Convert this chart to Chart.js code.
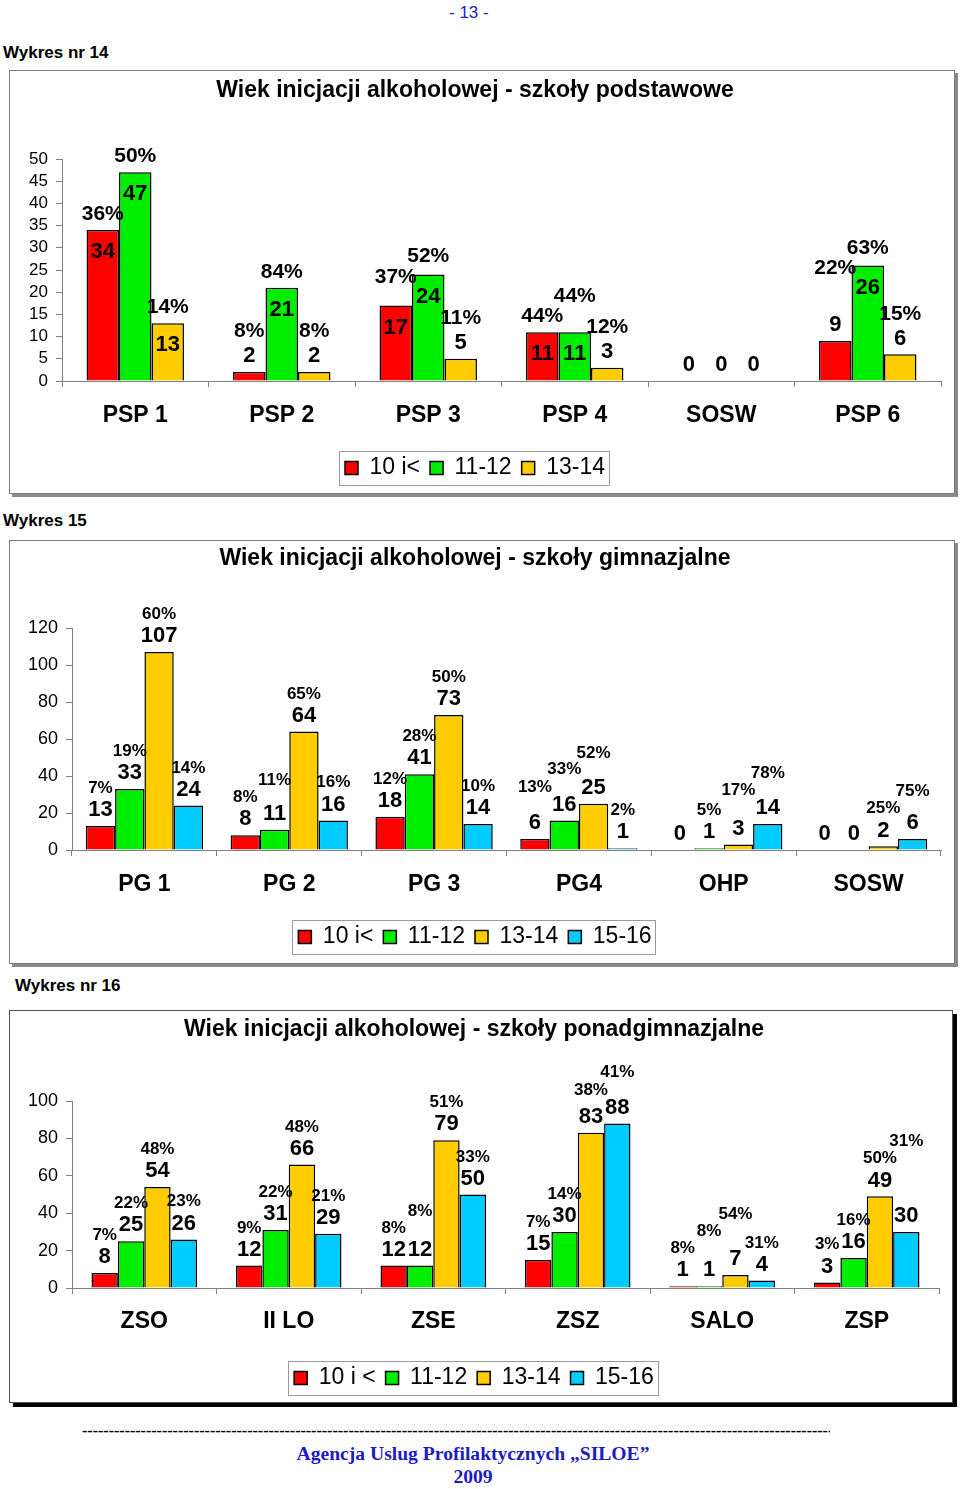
<!DOCTYPE html>
<html lang="pl">
<head>
<meta charset="utf-8">
<title>Wiek inicjacji alkoholowej</title>
<script src="https://cdn.jsdelivr.net/npm/chart.js@4.4.1/dist/chart.umd.min.js"></script>
<style>
  body { margin: 0; width: 960px; height: 1489px; background: #fff; position: relative; overflow: hidden;
         font-family: 'Liberation Sans', Arial, sans-serif; color: #000; }
  .abs { position: absolute; white-space: nowrap; }
  .frame { position: absolute; box-sizing: border-box; border: 1px solid #7a7a7a; background: #fff; }
  .frame.soft { box-shadow: 3px 3px 0 #8a8a8a; }
  .frame.hard { border-color: #555; box-shadow: 4px 4px 0 #000; }
  .holder { position: absolute; }
  .cap { font-weight: bold; font-size: 17px; }
  .blue { color: #1c1cc0; }
</style>
</head>
<body>

<div class="abs blue" style="left:449px; top:3px; font-size:17px;">- 13 -</div>

<div class="abs cap" style="left:3px; top:43px;">Wykres nr 14</div>
<div class="frame soft" style="left:9px; top:70px; width:946px; height:424px;"></div>
<div class="holder" style="left:9px; top:70px;"><canvas id="chart14" width="946" height="424"></canvas></div>

<div class="abs cap" style="left:3px; top:511px;">Wykres 15</div>
<div class="frame soft" style="left:9px; top:540px; width:946px; height:424px;"></div>
<div class="holder" style="left:9px; top:540px;"><canvas id="chart15" width="946" height="424"></canvas></div>

<div class="abs cap" style="left:15px; top:976px;">Wykres nr 16</div>
<div class="frame hard" style="left:9px; top:1010px; width:944px; height:393px;"></div>
<div class="holder" style="left:9px; top:1010px;"><canvas id="chart16" width="944" height="393"></canvas></div>

<div class="abs" style="left:82px; top:1422px; width:748px; overflow:hidden; font:bold 16px 'Liberation Serif', serif;" id="dashes"></div>
<div class="abs blue" style="left:0; width:946px; text-align:center; top:1443px; font:bold 19.6px 'Liberation Serif', serif;">Agencja Uslug Profilaktycznych „SILOE”</div>
<div class="abs blue" style="left:0; width:946px; text-align:center; top:1466px; font:bold 19.6px 'Liberation Serif', serif;">2009</div>

<script>
// Colours of the age groups
const seriesColors = ['#ff0000', '#00ee00', '#ffcc00', '#00ccff'];

// Wykres nr 14 - szkoly podstawowe
const podstCategories = ['PSP 1', 'PSP 2', 'PSP 3', 'PSP 4', 'SOSW', 'PSP 6'];
const podstSeries = ['10 i<', '11-12', '13-14'];
const podst10 = [34, 2, 17, 11, 0, 9];
const podst1112 = [47, 21, 24, 11, 0, 26];
const podst1314 = [13, 2, 5, 3, 0, 6];
const podstPct10 = [36, 8, 37, 44, null, 22];
const podstPct1112 = [50, 84, 52, 44, null, 63];
const podstPct1314 = [14, 8, 11, 12, null, 15];

// Wykres 15 - szkoly gimnazjalne
const gimCategories = ['PG 1', 'PG 2', 'PG 3', 'PG4', 'OHP', 'SOSW'];
const gimSeries = ['10 i<', '11-12', '13-14', '15-16'];
const gim10 = [13, 8, 18, 6, 0, 0];
const gim1112 = [33, 11, 41, 16, 1, 0];
const gim1314 = [107, 64, 73, 25, 3, 2];
const gim1516 = [24, 16, 14, 1, 14, 6];
const gimPct10 = [7, 8, 12, 13, null, null];
const gimPct1112 = [19, 11, 28, 33, 5, null];
const gimPct1314 = [60, 65, 50, 52, 17, 25];
const gimPct1516 = [14, 16, 10, 2, 78, 75];

// Wykres nr 16 - szkoly ponadgimnazjalne
const ponCategories = ['ZSO', 'II LO', 'ZSE', 'ZSZ', 'SALO', 'ZSP'];
const ponSeries = ['10 i <', '11-12', '13-14', '15-16'];
const pon10 = [8, 12, 12, 15, 1, 3];
const pon1112 = [25, 31, 12, 30, 1, 16];
const pon1314 = [54, 66, 79, 83, 7, 49];
const pon1516 = [26, 29, 50, 88, 4, 30];
const ponPct10 = [7, 9, 8, 7, 8, 3];
const ponPct1112 = [22, 22, 8, 14, 8, 16];
const ponPct1314 = [48, 48, 51, 38, 54, 50];
const ponPct1516 = [23, 21, 33, 41, 31, 31];

document.getElementById('dashes').textContent = '-'.repeat(220);

const FONT = "'Liberation Sans', Arial, sans-serif";

// value + percentage labels over the bars, percentages pushed up when they collide
const barLabels = {
    id: 'barLabels',
    afterDatasetsDraw(chart, args, opts) {
        const ctx = chart.ctx;
        const placed = [];
        const pending = [];
        const mkBox = (x, y, w, h, m) => ({ l: x - w / 2 - m, r: x + w / 2 + m, t: y - h / 2 - m, b: y + h / 2 + m });
        const hits = b => placed.some(p => b.l < p.r && b.r > p.l && b.t < p.b && b.b > p.t);
        ctx.save();
        ctx.textAlign = 'center';
        ctx.textBaseline = 'middle';
        ctx.fillStyle = '#000';
        chart.data.datasets.forEach((ds, i) => {
            chart.getDatasetMeta(i).data.forEach((bar, j) => {
                const text = String(ds.data[j]);
                const height = bar.base - bar.y;
                const inside = opts.insideMin && height >= opts.insideMin;
                ctx.font = `bold ${opts.valueSize}px ${FONT}`;
                const vy = inside ? bar.y + opts.valueSize : bar.y - opts.valueSize * 0.72;
                ctx.fillText(text, bar.x, vy);
                placed.push(mkBox(bar.x, vy, ctx.measureText(text).width, opts.valueSize * 0.8, 0));
                if (ds.pct[j] != null) {
                    const py = inside ? bar.y - opts.pctSize * 0.75
                                      : vy - opts.valueSize * 0.45 - opts.pctSize * 0.7;
                    pending.push({ x: bar.x, y: py, text: ds.pct[j] + '%' });
                }
            });
        });
        ctx.font = `bold ${opts.pctSize}px ${FONT}`;
        pending.forEach(p => {
            const w = ctx.measureText(p.text).width;
            let b = mkBox(p.x, p.y, w, opts.pctSize * 0.8, 1.5);
            while (hits(b)) { p.y -= 1; b = mkBox(p.x, p.y, w, opts.pctSize * 0.8, 1.5); }
            placed.push(b);
            ctx.fillText(p.text, p.x, p.y);
        });
        ctx.restore();
    }
};

// framed legend like in the spreadsheet
const legendFrame = {
    id: 'legendFrame',
    afterDraw(chart) {
        const boxes = chart.legend && chart.legend.legendHitBoxes;
        if (!boxes || !boxes.length) return;
        const left = Math.min(...boxes.map(b => b.left)) - 6;
        const right = Math.max(...boxes.map(b => b.left + b.width)) + 4;
        const top = boxes[0].top - 5.5;
        const bottom = boxes[0].top + boxes[0].height + 5.5;
        const ctx = chart.ctx;
        ctx.save();
        ctx.strokeStyle = '#9a9a9a';
        ctx.lineWidth = 1;
        ctx.strokeRect(Math.round(left) + 0.5, Math.round(top) + 0.5, Math.round(right - left), Math.round(bottom - top));
        ctx.restore();
    }
};

function makeChart(id, cfg) {
    const datasets = cfg.series.map((name, i) => ({
        label: name,
        data: cfg.values[i],
        pct: cfg.pcts[i],
        backgroundColor: seriesColors[i],
        borderColor: '#000',
        borderWidth: 1.5,
        categoryPercentage: cfg.groupWidth,
        barPercentage: 1
    }));
    return new Chart(document.getElementById(id), {
        type: 'bar',
        data: { labels: cfg.categories, datasets },
        plugins: [barLabels, legendFrame],
        options: {
            responsive: false,
            animation: false,
            layout: { padding: { left: 0, right: 14, top: 0, bottom: cfg.padBottom } },
            scales: {
                y: {
                    min: 0,
                    max: cfg.max,
                    ticks: { stepSize: cfg.step, autoSkip: false, color: '#000', padding: 8,
                             font: { family: FONT, size: cfg.tickSize } },
                    grid: { drawOnChartArea: false, tickLength: 6, color: '#808080' },
                    border: { color: '#808080' },
                    afterFit: s => { s.width = cfg.yWidth; }
                },
                x: {
                    ticks: { color: '#000', padding: cfg.xPad, font: { family: FONT, size: 23, weight: 'bold' } },
                    grid: { drawOnChartArea: false, tickLength: 6, color: '#808080', offset: true },
                    border: { color: '#808080' },
                    afterFit: s => { s.height = cfg.xHeight; }
                }
            },
            plugins: {
                title: {
                    display: true,
                    text: cfg.title,
                    color: '#000',
                    font: { family: FONT, size: 23, weight: 'bold' },
                    padding: { top: cfg.titleTop, bottom: cfg.titleBottom }
                },
                legend: {
                    position: 'bottom',
                    labels: { color: '#000', boxWidth: 13, boxHeight: 13, padding: 10, font: { family: FONT, size: 23 } }
                },
                tooltip: { enabled: false },
                barLabels: cfg.labels
            }
        }
    });
}

makeChart('chart14', {
    title: 'Wiek inicjacji alkoholowej - szkoły podstawowe',
    categories: podstCategories,
    series: podstSeries,
    values: [podst10, podst1112, podst1314],
    pcts: [podstPct10, podstPct1112, podstPct1314],
    groupWidth: 0.665,
    max: 50, step: 5, tickSize: 17, yWidth: 53,
    titleTop: 7.2, titleBottom: 54.2,
    xPad: 15.2, xHeight: 65.5, padBottom: 4.5,
    labels: { valueSize: 22, pctSize: 21, insideMin: 45 }
});

makeChart('chart15', {
    title: 'Wiek inicjacji alkoholowej - szkoły gimnazjalne',
    categories: gimCategories,
    series: gimSeries,
    values: [gim10, gim1112, gim1314, gim1516],
    pcts: [gimPct10, gimPct1112, gimPct1314, gimPct1516],
    groupWidth: 0.81,
    max: 120, step: 20, tickSize: 18, yWidth: 63,
    titleTop: 5.2, titleBottom: 55.2,
    xPad: 15.2, xHeight: 65.5, padBottom: 5.5,
    labels: { valueSize: 22, pctSize: 17, insideMin: 0 }
});

makeChart('chart16', {
    title: 'Wiek inicjacji alkoholowej - szkoły ponadgimnazjalne',
    categories: ponCategories,
    series: ponSeries,
    values: [pon10, pon1112, pon1314, pon1516],
    pcts: [ponPct10, ponPct1112, ponPct1314, ponPct1516],
    groupWidth: 0.73,
    max: 100, step: 20, tickSize: 18, yWidth: 63,
    titleTop: 6.2, titleBottom: 57.2,
    xPad: 14.2, xHeight: 68.5, padBottom: 3.5,
    labels: { valueSize: 22, pctSize: 17, insideMin: 0 }
});
</script>
</body>
</html>
